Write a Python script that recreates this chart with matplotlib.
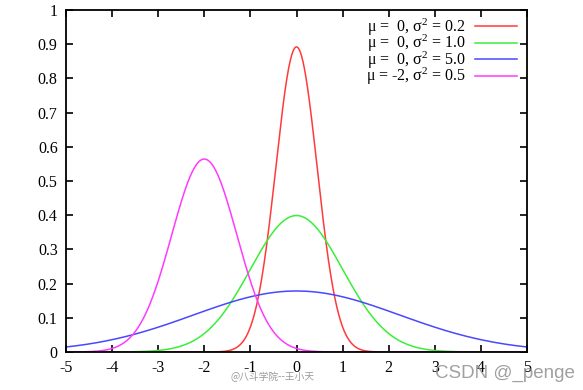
import numpy as np
import matplotlib.pyplot as plt

# parameters
mus = [0, 0, 0, -2]
variances = [0.2, 1.0, 5.0, 0.5]
labels = [r'$\mathregular{\mu}$ =  0, $\mathregular{\sigma^2}$ = 0.2',
          r'$\mathregular{\mu}$ =  0, $\mathregular{\sigma^2}$ = 1.0',
          r'$\mathregular{\mu}$ =  0, $\mathregular{\sigma^2}$ = 5.0',
          r'$\mathregular{\mu}$ = -2, $\mathregular{\sigma^2}$ = 0.5']
colors = ['#ff3a3a', '#3aee3a', '#4848ff', '#ff3aff']
xticks = list(range(-5, 6))
yticks = [0, 0.1, 0.2, 0.3, 0.4, 0.5, 0.6, 0.7, 0.8, 0.9, 1]

plt.rcParams['font.family'] = ['Liberation Serif', 'DejaVu Serif']
plt.rcParams['mathtext.fontset'] = 'custom'
plt.rcParams['mathtext.rm'] = 'Liberation Serif'

fig = plt.figure(figsize=(5.83, 3.9), dpi=100)
ax = fig.add_axes([66 / 583, 38 / 390, 461 / 583, 342 / 390])

x = np.linspace(-5, 5, 1001)
for mu, var, lab, c in zip(mus, variances, labels, colors):
    y = np.exp(-(x - mu) ** 2 / (2 * var)) / np.sqrt(2 * np.pi * var)
    ax.plot(x, y, color=c, lw=1.1, label=lab)

ax.set_xlim(-5, 5)
ax.set_ylim(0, 1)
ax.set_xticks(xticks)
ax.set_xticklabels([str(t) for t in xticks])
ax.set_yticks(yticks)
ax.set_yticklabels(['0' if t == 0 else ('1' if t == 1 else str(t)) for t in yticks])
ax.tick_params(direction='in', top=True, right=True, length=5, width=1.2,
               labelsize=11.5, pad=6)
for s in ax.spines.values():
    s.set_linewidth(1.3)

leg = ax.legend(loc='upper right', frameon=False, fontsize=11.5, markerfirst=False,
                handlelength=2.6, labelspacing=-0.3, borderaxespad=0.0,
                handletextpad=0.6, borderpad=0.2, bbox_to_anchor=(0.985, 0.99))
for t in leg.get_texts():
    t.set_ha('right')

fig.text(0.395, 0.025, '@八斗学院--王小天', fontsize=7, color='#999999',
         family=['Noto Sans CJK SC', 'DejaVu Sans'])
fig.text(0.746, 0.032, 'CSDN @_penge', fontsize=13.5, color='#888888', alpha=0.8,
         family=['Liberation Sans', 'DejaVu Sans'])

fig.savefig('out.png', dpi=100)
